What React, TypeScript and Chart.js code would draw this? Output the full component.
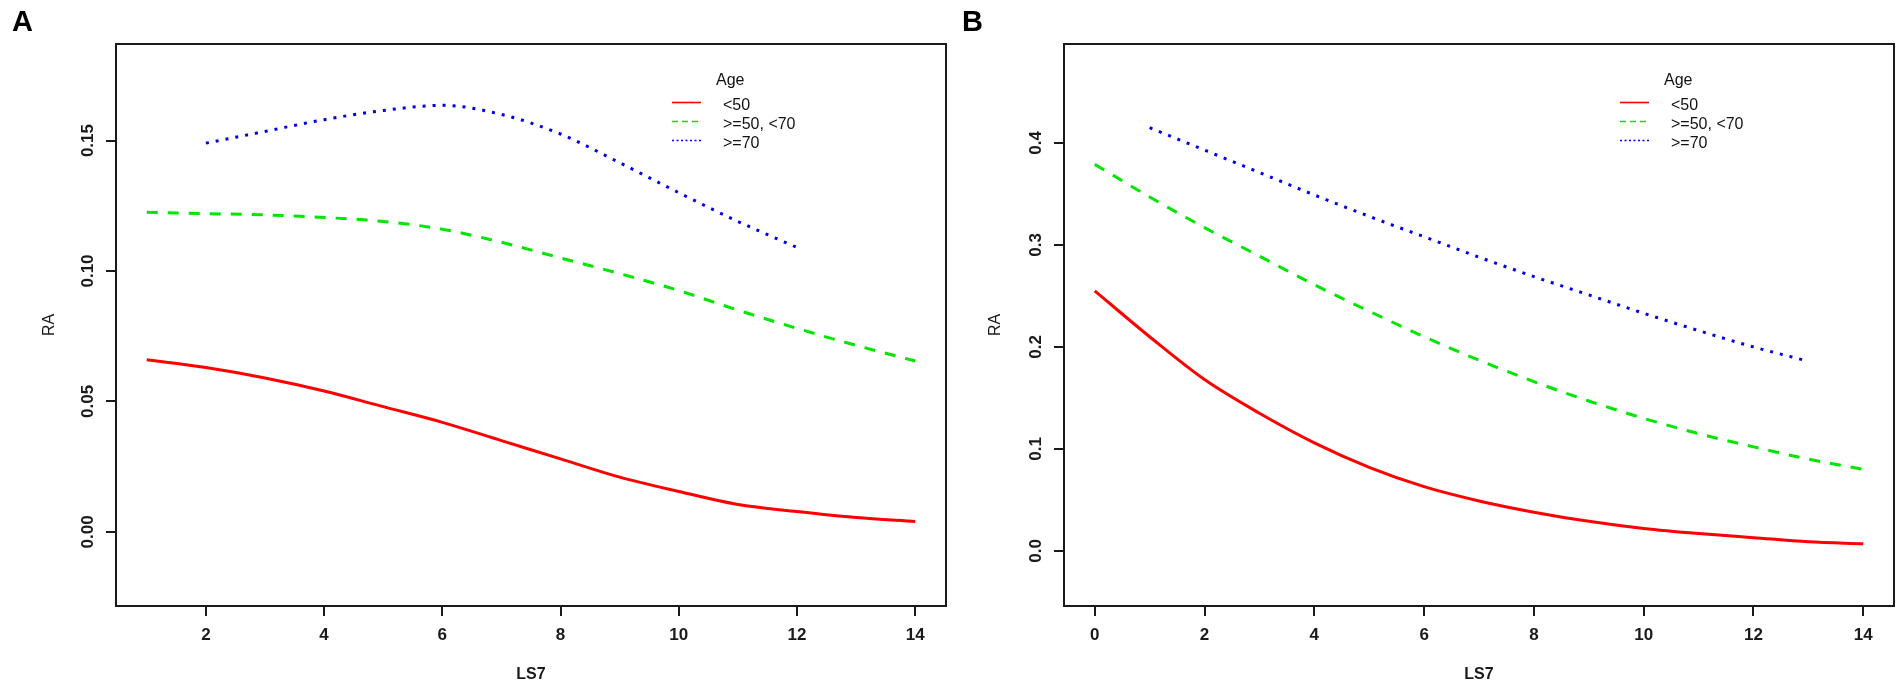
import { Chart, registerables, type ChartConfiguration, type Plugin } from "chart.js";
import { useEffect, useRef } from "react";

Chart.register(...registerables);

const FONT = "'Liberation Sans', Arial, Helvetica, sans-serif";
const INK = "#1a1a1a";

const seriesLabels = ["<50", ">=50, <70", ">=70"];
const seriesColors = ["#ff0000", "#00e600", "#0000e6"];

// Panel A
const xA = [1, 2, 3, 4, 5, 6, 7, 8, 9, 10, 11, 12, 13, 14];
const aUnder50 = [0.066, 0.063, 0.059, 0.054, 0.048, 0.042, 0.035, 0.028, 0.021, 0.0155, 0.0105, 0.0078, 0.0055, 0.004];
const a50to70 = [0.1225, 0.122, 0.1215, 0.1205, 0.119, 0.116, 0.111, 0.105, 0.099, 0.0925, 0.085, 0.078, 0.0715, 0.0655];
const xAOver70 = [2, 3, 4, 5, 6, 7, 8, 9, 10, 11, 12];
const aOver70 = [0.149, 0.1535, 0.158, 0.1615, 0.1635, 0.16, 0.1525, 0.1415, 0.13, 0.119, 0.109];
const xTicksA = [2, 4, 6, 8, 10, 12, 14];
const yTicksA = [0, 0.05, 0.1, 0.15];

// Panel B
const xB = [0, 1, 2, 3, 4, 5, 6, 7, 8, 9, 10, 11, 12, 13, 14];
const bUnder50 = [0.255, 0.21, 0.168, 0.135, 0.106, 0.082, 0.063, 0.049, 0.038, 0.029, 0.022, 0.017, 0.013, 0.009, 0.007];
const b50to70 = [0.379, 0.347, 0.317, 0.289, 0.261, 0.235, 0.21, 0.187, 0.166, 0.147, 0.13, 0.115, 0.102, 0.09, 0.08];
const xBOver70 = [1, 2, 3, 4, 5, 6, 7, 8, 9, 10, 11, 12, 13];
const bOver70 = [0.415, 0.393, 0.371, 0.349, 0.328, 0.308, 0.288, 0.269, 0.251, 0.233, 0.216, 0.2, 0.186];
const xTicksB = [0, 2, 4, 6, 8, 10, 12, 14];
const yTicksB = [0, 0.1, 0.2, 0.3, 0.4];

const lineDash = [[], [11, 10], [3, 7]];
const legendDash = [[], [6, 4], [2, 2.5]];

type PanelProps = {
  letter: string;
  series: { xs: number[]; ys: number[] }[];
  xRange: [number, number];
  yRange: [number, number];
  xTicks: number[];
  yTicks: number[];
  decimals: number;
  yAxisWidth: number;
  rightPad: number;
  yTitlePad: number;
  left: number;
  width: number;
};

/** Box, rotated y labels, panel letter and the R-style legend. */
const framePlugin: Plugin<"line"> = {
  id: "frame",
  afterDraw(chart, _args, opts: any) {
    const { ctx, chartArea: a } = chart;
    ctx.save();
    ctx.strokeStyle = INK;
    ctx.lineWidth = 2;
    ctx.strokeRect(a.left, a.top, a.right - a.left, a.bottom - a.top);

    // y tick labels, reading upwards like R's default
    const y = chart.scales.y;
    ctx.fillStyle = INK;
    ctx.font = `bold 17px ${FONT}`;
    ctx.textAlign = "center";
    ctx.textBaseline = "alphabetic";
    for (const t of y.ticks) {
      const py = y.getPixelForValue(t.value);
      ctx.save();
      ctx.translate(a.left - 23, py);
      ctx.rotate(-Math.PI / 2);
      ctx.fillText(t.value.toFixed(opts.decimals), 0, 0);
      ctx.restore();
    }

    // panel letter
    ctx.textAlign = "left";
    ctx.font = `bold 29px ${FONT}`;
    ctx.fillStyle = "#000";
    ctx.fillText(opts.letter, 12, 31);

    // legend
    ctx.font = `16px ${FONT}`;
    ctx.fillStyle = "#111";
    ctx.fillText("Age", a.left + 600, 85);
    chart.data.datasets.forEach((ds, i) => {
      const base = 110 + i * 19;
      ctx.beginPath();
      ctx.setLineDash(legendDash[i]);
      ctx.strokeStyle = ds.borderColor as string;
      ctx.lineWidth = 1.6;
      ctx.moveTo(a.left + 556, base - 7.5);
      ctx.lineTo(a.left + 585, base - 7.5);
      ctx.stroke();
      ctx.setLineDash([]);
      ctx.fillText(ds.label ?? "", a.left + 607, base);
    });
    ctx.restore();
  },
};

function Panel(p: PanelProps) {
  const canvasRef = useRef<HTMLCanvasElement>(null);

  useEffect(() => {
    const canvas = canvasRef.current;
    if (!canvas) return;
    const tickGrid = {
      display: true,
      drawOnChartArea: false,
      drawTicks: true,
      tickLength: 10,
      color: INK,
      lineWidth: 2,
    };
    const config: ChartConfiguration<"line"> = {
      type: "line",
      data: {
        datasets: p.series.map((s, i) => ({
          label: seriesLabels[i],
          data: s.xs.map((x, j) => ({ x, y: s.ys[j] })),
          borderColor: seriesColors[i],
          borderWidth: 3,
          borderDash: lineDash[i],
          pointRadius: 0,
          cubicInterpolationMode: "monotone",
          fill: false,
        })),
      },
      options: {
        animation: false,
        responsive: false,
        events: [],
        layout: { padding: { left: 0, top: 44, right: p.rightPad, bottom: 0 }, autoPadding: false },
        plugins: {
          legend: { display: false },
          tooltip: { enabled: false },
          frame: { letter: p.letter, decimals: p.decimals },
        } as any,
        scales: {
          x: {
            type: "linear",
            bounds: "data",
            min: p.xRange[0],
            max: p.xRange[1],
            afterBuildTicks: (s) => {
              s.ticks = p.xTicks.map((value) => ({ value }));
            },
            afterFit: (s) => {
              s.height = 80;
            },
            grid: tickGrid,
            border: { display: false },
            ticks: {
              font: { family: FONT, size: 17, weight: "bold" },
              color: INK,
              padding: 9,
              maxRotation: 0,
              autoSkip: false,
            },
            title: {
              display: true,
              text: "LS7",
              font: { family: FONT, size: 16, weight: "bold" },
              color: INK,
              padding: { top: 0, bottom: 2 },
            },
          },
          y: {
            type: "linear",
            bounds: "data",
            min: p.yRange[0],
            max: p.yRange[1],
            afterBuildTicks: (s) => {
              s.ticks = p.yTicks.map((value) => ({ value }));
            },
            afterFit: (s) => {
              s.width = p.yAxisWidth;
            },
            grid: tickGrid,
            border: { display: false },
            ticks: { display: false },
            title: {
              display: true,
              text: "RA",
              font: { family: FONT, size: 16 },
              color: INK,
              padding: { top: p.yTitlePad, bottom: 0 },
            },
          },
        },
      },
      plugins: [framePlugin],
    };
    const chart = new Chart(canvas, config);
    return () => chart.destroy();
  }, [p]);

  return (
    <canvas
      ref={canvasRef}
      width={p.width}
      height={686}
      style={{ position: "absolute", left: p.left, top: 0, display: "block" }}
    />
  );
}

const panelA: PanelProps = {
  letter: "A",
  series: [
    { xs: xA, ys: aUnder50 },
    { xs: xA, ys: a50to70 },
    { xs: xAOver70, ys: aOver70 },
  ],
  xRange: [0.48, 14.52],
  yRange: [-0.0284, 0.187],
  xTicks: xTicksA,
  yTicks: yTicksA,
  decimals: 2,
  yAxisWidth: 116,
  rightPad: 4,
  yTitlePad: 40,
  left: 0,
  width: 950,
};

const panelB: PanelProps = {
  letter: "B",
  series: [
    { xs: xB, ys: bUnder50 },
    { xs: xB, ys: b50to70 },
    { xs: xBOver70, ys: bOver70 },
  ],
  xRange: [-0.56, 14.56],
  yRange: [-0.054, 0.497],
  xTicks: xTicksB,
  yTicks: yTicksB,
  decimals: 1,
  yAxisWidth: 114,
  rightPad: 7,
  yTitlePad: 36,
  left: 950,
  width: 951,
};

export default function App() {
  return (
    <div style={{ position: "fixed", left: 0, top: 0, width: 1901, height: 686, background: "#fff" }}>
      <Panel {...panelA} />
      <Panel {...panelB} />
    </div>
  );
}
